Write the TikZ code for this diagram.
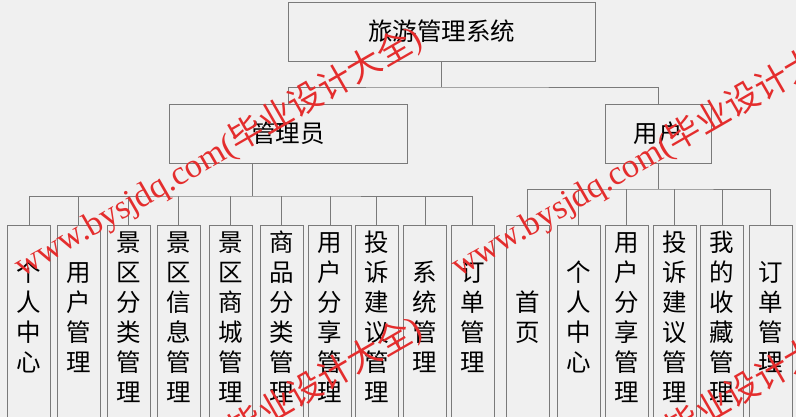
\documentclass[tikz,border=0pt]{standalone}
\usepackage{fontspec}
\setmainfont{Noto Sans CJK SC}
\newfontfamily\wmlat{Liberation Serif}
\newfontfamily\wmcjk{Noto Sans CJK SC}
\definecolor{bg}{HTML}{F0F0F0}
\definecolor{ln}{HTML}{7A7A7A}
\definecolor{wmred}{RGB}{228,45,45}
\newcommand\vtxt[1]{\raisebox{0pt}[101pt][99pt]{\begin{tabular}[c]{@{}c@{}}#1\end{tabular}}}
\begin{document}
\begin{tikzpicture}[x=1pt,y=-1pt,
  box/.style={draw=ln, line width=0.9pt, fill=bg, inner sep=0pt, font=\fontsize{24.5}{30}\selectfont},
  cbox/.style={box, minimum width=43pt, anchor=north},
  conn/.style={draw=ln, line width=0.9pt},
  wm/.style={text=wmred, rotate=30, font=\wmlat\fontsize{34}{34}\selectfont, inner sep=0pt}]
\useasboundingbox (0,0) rectangle (796,417);
\clip (0,0) rectangle (796,417);
\fill[bg] (0,0) rectangle (796,417);
% top levels
\node[box, minimum width=307pt, minimum height=59pt] (top) at (441.5,31.5) {旅游管理系统};
\node[box, minimum width=238pt, minimum height=59pt] (adm) at (288,133.5) {管理员};
\node[box, minimum width=106pt, minimum height=59pt] (usr) at (658,133.5) {用户};
% admin children
\node[cbox] (a1) at (29,225) {\vtxt{个\\人\\中\\心}};
\node[cbox] (a2) at (78.5,225) {\vtxt{用\\户\\管\\理}};
\node[cbox] (a3) at (128.5,225) {\vtxt{景\\区\\分\\类\\管\\理}};
\node[cbox] (a4) at (178.5,225) {\vtxt{景\\区\\信\\息\\管\\理}};
\node[cbox] (a5) at (230.5,225) {\vtxt{景\\区\\商\\城\\管\\理}};
\node[cbox] (a6) at (281.5,225) {\vtxt{商\\品\\分\\类\\管\\理}};
\node[cbox] (a7) at (330,225) {\vtxt{用\\户\\分\\享\\管\\理}};
\node[cbox] (a8) at (376.5,225) {\vtxt{投\\诉\\建\\议\\管\\理}};
\node[cbox] (a9) at (425,225) {\vtxt{系\\统\\管\\理}};
\node[cbox] (a10) at (472.5,225) {\vtxt{订\\单\\管\\理}};
% user children
\node[cbox] (u1) at (527.5,225) {\vtxt{首\\页}};
\node[cbox] (u2) at (578.5,225) {\vtxt{个\\人\\中\\心}};
\node[cbox] (u3) at (626.5,225) {\vtxt{用\\户\\分\\享\\管\\理}};
\node[cbox] (u4) at (674.5,225) {\vtxt{投\\诉\\建\\议\\管\\理}};
\node[cbox] (u5) at (722,225) {\vtxt{我\\的\\收\\藏\\管\\理}};
\node[cbox] (u6) at (770.5,225) {\vtxt{订\\单\\管\\理}};
% connectors
\coordinate (hb) at (441.5,87);
\draw[conn] (top.south) -- (hb);
\draw[conn] (adm.north) |- (hb) -| (usr.north);
\coordinate (ab) at (252,196);
\draw[conn] (adm.south -| ab) -- (ab);
\draw[conn] (a1.north) |- (ab) -| (a10.north);
\foreach \i in {2,...,9} \draw[conn] (a\i.north) -- (a\i.north |- ab);
\coordinate (ub) at (658,189);
\draw[conn] (usr.south) -- (ub);
\draw[conn] (u1.north) |- (ub) -| (u6.north);
\foreach \i in {2,...,5} \draw[conn] (u\i.north) -- (u\i.north |- ub);
% watermark
\node[wm] (w1) at (218,152) {www.bysjdq.com({\wmcjk 毕业设计大全})};
\node[wm] (w2) at (655,152) {www.bysjdq.com({\wmcjk 毕业设计大全})};
\node[wm] (w3) at (218,442) {www.bysjdq.com({\wmcjk 毕业设计大全})};
\node[wm] (w4) at (655,442) {www.bysjdq.com({\wmcjk 毕业设计大全})};
\end{tikzpicture}
\end{document}
